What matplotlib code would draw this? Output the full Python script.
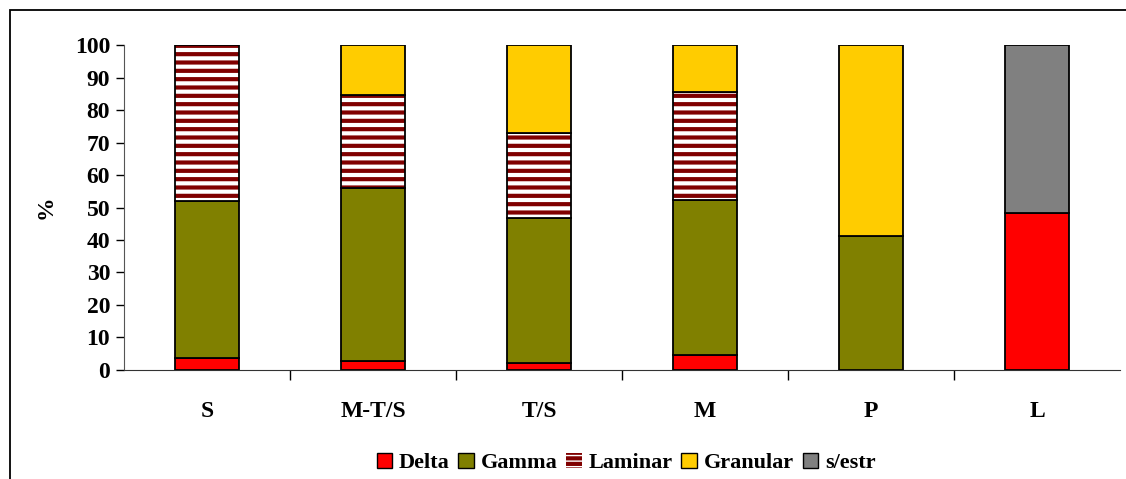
import numpy as np
import matplotlib.pyplot as plt
from matplotlib.patches import Patch, Rectangle

categories = ['S', 'M-T/S', 'T/S', 'M', 'P', 'L']
delta = [3.7, 2.8, 2.3, 4.6, 0.0, 48.3]
gamma = [48.3, 53.2, 44.5, 47.7, 41.1, 0.0]
laminar = [48.0, 28.6, 26.2, 33.1, 0.0, 0.0]
granular = [0.0, 15.4, 27.0, 14.6, 58.9, 0.0]
sin_estr = [0.0, 0.0, 0.0, 0.0, 0.0, 51.7]

plt.rcParams['font.family'] = 'Liberation Serif'
plt.rcParams['font.weight'] = 'bold'
plt.rcParams['hatch.linewidth'] = 3.0

FS = 17

fig = plt.figure(figsize=(11.26, 4.79), dpi=100)
ax = fig.add_axes([0.1101, 0.2276, 0.8846, 0.6784])

# outer chart frame
fig.patches.append(Rectangle((10 / 1126, -0.05), 1.2, 1 - 10 / 479 + 0.05,
                             transform=fig.transFigure, fill=False,
                             edgecolor='black', linewidth=1.3))

x = np.arange(len(categories))
w = 0.39
bottom = np.zeros(len(categories))

series = [('Delta', delta, '#FF0000'),
          ('Gamma', gamma, '#808000'),
          ('Laminar', laminar, None),
          ('Granular', granular, '#FFCC00'),
          ('s/estr', sin_estr, '#808080')]

handles = []
for name, vals, color in series:
    vals = np.array(vals)
    mask = vals > 0
    if color is None:
        # striped fill: hatch takes the edge colour, outline drawn on top
        ax.bar(x[mask], vals[mask], w, bottom=bottom[mask], color='white',
               edgecolor='#800000', hatch='--', linewidth=0)
        ax.bar(x[mask], vals[mask], w, bottom=bottom[mask], fill=False,
               edgecolor='black', linewidth=1.3)
        handles.append(Patch(facecolor='white', edgecolor='#800000',
                             hatch='---', linewidth=0, label=name))
    else:
        ax.bar(x[mask], vals[mask], w, bottom=bottom[mask], color=color,
               edgecolor='black', linewidth=1.3)
        handles.append(Patch(facecolor=color, edgecolor='black',
                             linewidth=1.0, label=name))
    bottom += vals

ax.set_xlim(-0.5, len(categories) - 0.5)
ax.set_ylim(0, 100)
ax.set_yticks(np.arange(0, 101, 10))
ax.set_xticks(x)
ax.set_xticklabels(categories, fontsize=FS, fontweight='bold')
ax.set_xticks(np.arange(0.5, len(categories) - 1, 1), minor=True)
ax.tick_params(axis='x', which='major', length=0, pad=22)
ax.tick_params(axis='x', which='minor', length=7, width=1, direction='out')
ax.tick_params(axis='y', labelsize=FS, length=6, width=1, pad=4)
for lab in ax.get_yticklabels():
    lab.set_fontweight('bold')

for side in ['top', 'right']:
    ax.spines[side].set_visible(False)
ax.spines['left'].set_color('#555555')
ax.spines['bottom'].set_color('#333333')

ax.set_ylabel('%', fontsize=FS, fontweight='bold', labelpad=13)

fig.legend(handles=handles, loc='center', bbox_to_anchor=(0.556, 1 - 463 / 479),
           ncol=5, frameon=False, handlelength=0.7,
           handleheight=0.7, handletextpad=0.3, columnspacing=0.4,
           prop={'weight': 'bold', 'size': 16})

fig.savefig('out.png', dpi=100)
